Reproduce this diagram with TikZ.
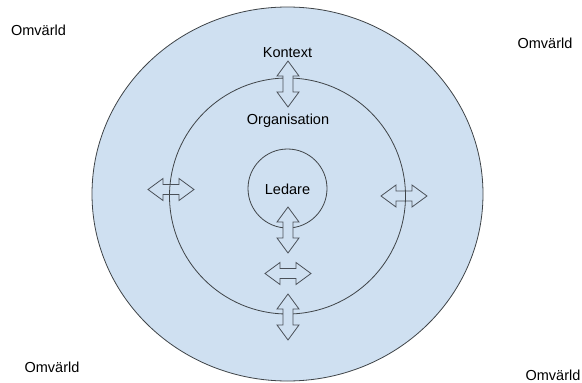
\documentclass[tikz,border=0pt]{standalone}
\usepackage{fontspec}
\setmainfont{Liberation Sans}
\definecolor{ringfill}{HTML}{CFE0F1}
\definecolor{ringline}{HTML}{3F4448}
\definecolor{arrline}{HTML}{4A5058}
\newcommand{\blockdbl}[4]{% cx, cy, angle, fill?
  \begin{scope}[shift={(#1,#2)},rotate=#3]
    \draw[arrowshape,#4] (-23,0) -- (-8,11) -- (-8,5) -- (8,5) -- (8,11) -- (23,0)
      -- (8,-11) -- (8,-5) -- (-8,-5) -- (-8,-11) -- cycle;
  \end{scope}}
\begin{document}
\begin{tikzpicture}[x=1pt,y=-1pt,
  ring/.style={draw=ringline,line width=0.8pt,fill=ringfill},
  arrowshape/.style={draw=arrline,line width=0.8pt,line join=miter},
  lbl/.style={inner sep=0pt,font=\fontsize{14.5}{17}\selectfont,text=black}]
\useasboundingbox (0,0) rectangle (582,383);
\fill[white] (0,0) rectangle (582,383);
\draw[ring] (287.5,194) ellipse [x radius=195.5,y radius=187];
\draw[ring] (287.5,196) circle [radius=118];
\draw[ring] (287.5,188.5) circle [radius=39.5];
% arrows
\blockdbl{288}{84}{90}{fill=ringfill}
\blockdbl{171}{189.5}{0}{}
\blockdbl{404}{196}{0}{}
\blockdbl{288}{230}{90}{fill=ringfill}
\blockdbl{288}{273.5}{0}{fill=ringfill}
\blockdbl{288}{317}{90}{fill=ringfill}
% labels
\node[lbl] (tl) at (38.5,30) {Omvärld};
\node[lbl] (tr) at (545,43) {Omvärld};
\node[lbl] (bl) at (52,367) {Omvärld};
\node[lbl] (br) at (553,375) {Omvärld};
\node[lbl] (kontext) at (287.5,53) {Kontext};
\node[lbl] (org) at (288,121) {Organisation};
\node[lbl] (ledare) at (287.5,189) {Ledare};
\end{tikzpicture}
\end{document}
